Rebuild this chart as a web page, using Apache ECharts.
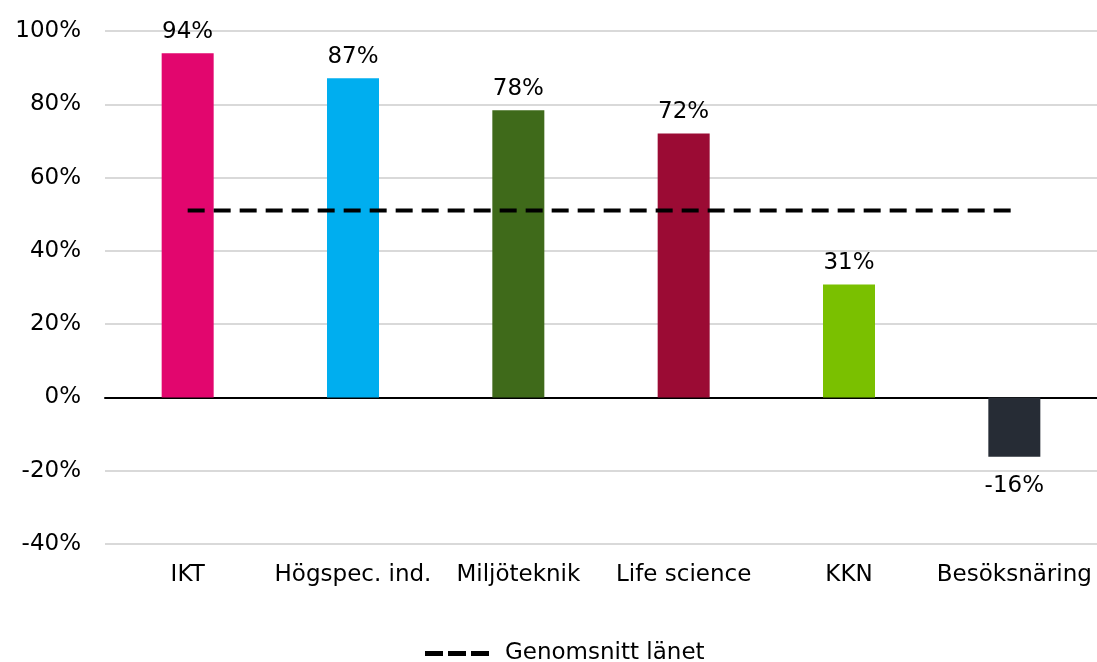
<!DOCTYPE html>
<html><head><meta charset="utf-8">
<script src="https://cdn.jsdelivr.net/npm/echarts@6/dist/echarts.min.js"></script>
<style>html,body{margin:0;padding:0;background:#fff}#c{width:1097px;height:662px}</style>
</head><body><div id="c"></div>
<script>
const categories = ['IKT', 'Högspec. ind.', 'Miljöteknik', 'Life science', 'KKN', 'Besöksnäring'];
const values = [93.9, 87.1, 78.4, 72.0, 30.8, -16.2];
const average = [51, 51, 51, 51, 51, 51];
const barColors = ['#E2066E', '#00AEEF', '#3F6A1A', '#9B0B34', '#7AC000', '#262C35'];
const yMin = -40, yMax = 100, yStep = 20;

const font = 'Verdana, "DejaVu Sans", sans-serif';
const fs = 23;
const chart = echarts.init(document.getElementById('c'));
chart.setOption({
  animation: false,
  textStyle: { fontFamily: font },
  grid: { left: 105, right: 0, top: 31, bottom: 118, containLabel: false },
  legend: {
    data: [{ name: 'Genomsnitt länet', icon: 'path://M0,0h18v5h-18z M23,0h18v5h-18z M46,0h18v5h-18z' }],
    top: 642, left: 425, padding: 0,
    itemWidth: 66, itemHeight: 5, itemGap: 10,
    textStyle: { fontSize: fs, color: '#000', fontFamily: font, padding: [0, 0, 0, 10] }
  },
  xAxis: {
    type: 'category', data: categories,
    axisLine: { onZero: true, lineStyle: { color: '#000', width: 2 } },
    axisTick: { show: false },
    axisLabel: { fontSize: fs, color: '#000', margin: 20, interval: 0, fontFamily: font }
  },
  yAxis: {
    type: 'value', min: yMin, max: yMax, interval: yStep,
    axisLine: { show: false }, axisTick: { show: false },
    axisLabel: { fontSize: fs, color: '#000', margin: 24, formatter: v => v + '%', fontFamily: font },
    splitLine: { lineStyle: { color: '#d9d9d9', width: 2 } }
  },
  series: [
    {
      type: 'bar', barWidth: 52,
      data: values.map((v, i) => ({
        value: v, itemStyle: { color: barColors[i] },
        label: { position: v < 0 ? 'bottom' : 'top', distance: v < 0 ? 18 : 10 }
      })),
      label: {
        show: true, fontSize: fs, color: '#000', fontFamily: font,
        formatter: p => Math.round(p.value) + '%'
      }
    },
    {
      name: 'Genomsnitt länet', type: 'line', data: average,
      symbol: 'none', silent: true, z: 5,
      lineStyle: { color: '#000', width: 4, type: [17, 9] },
      itemStyle: { color: '#000' }
    }
  ]
});
</script></body></html>
